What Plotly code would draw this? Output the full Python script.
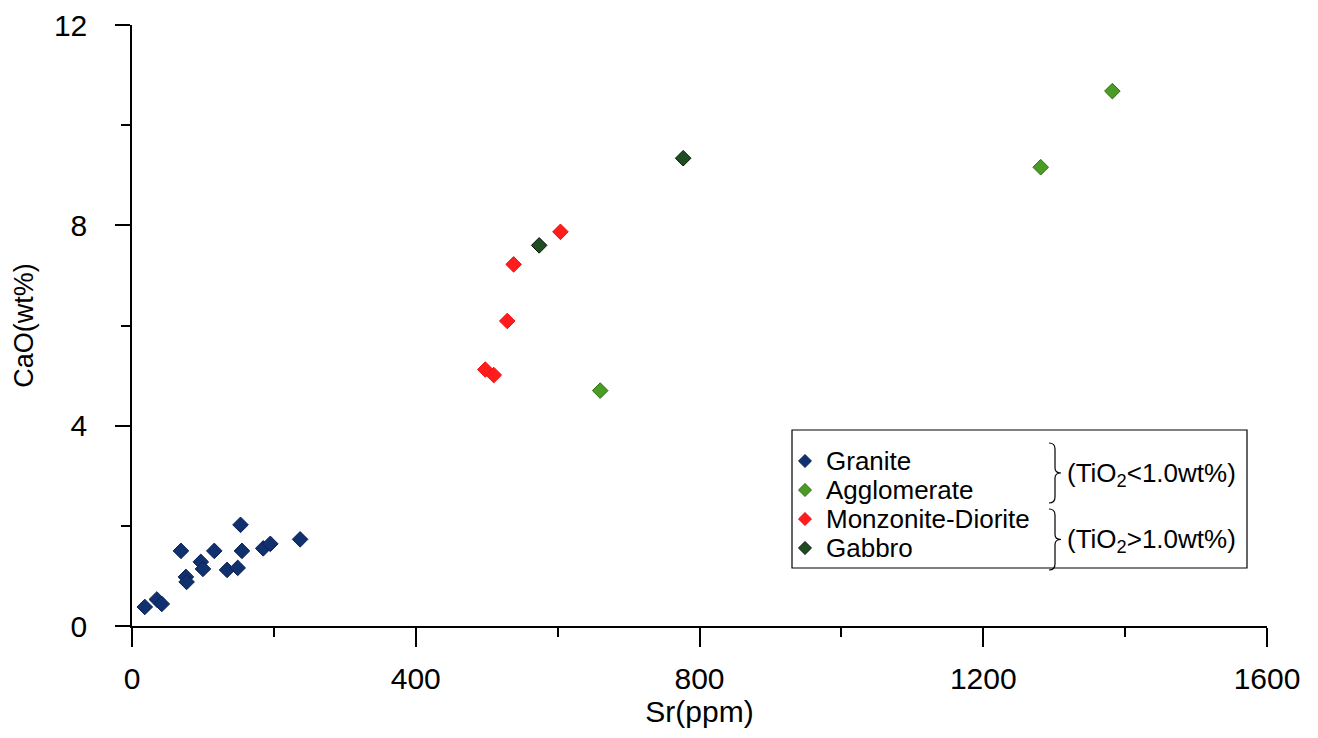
import plotly.graph_objects as go

# ---------------- data ----------------
granite_sr = [18, 35, 42, 69, 76, 77, 97, 100, 116, 134, 149, 153, 155, 185, 195, 237]
granite_cao = [0.38, 0.53, 0.44, 1.50, 0.98, 0.88, 1.28, 1.14, 1.50, 1.12, 1.16, 2.02, 1.50, 1.55, 1.64, 1.73]

agglo_sr = [660, 1281, 1382]
agglo_cao = [4.70, 9.16, 10.68]

monz_sr = [498, 510, 529, 538, 604]
monz_cao = [5.12, 5.01, 6.09, 7.22, 7.87]

gabbro_sr = [574, 777]
gabbro_cao = [7.60, 9.34]

x_ticks = [0, 400, 800, 1200, 1600]
y_ticks = [0, 4, 8, 12]

legend_names = ["Granite", "Agglomerate", "Monzonite-Diorite", "Gabbro"]
group_labels = ["(TiO<sub>2</sub>&lt;1.0wt%)", "(TiO<sub>2</sub>&gt;1.0wt%)"]

# ---------------- styling ----------------
W, H = 1318, 738
ML, MR, MT, MB = 132, 51, 25, 112
PW, PH = W - ML - MR, H - MT - MB
FONT = "Liberation Sans, Arial, sans-serif"

colors = {
    "Granite": ("#11306e", "#0b2258"),
    "Agglomerate": ("#4a9c24", "#2e6e16"),
    "Monzonite-Diorite": ("#ff1c1c", "#f01010"),
    "Gabbro": ("#1f4d22", "#0a140a"),
}

def px(xp):
    return (xp - ML) / PW

def py(yp):
    return (H - MB - yp) / PH

fig = go.Figure()
series = [
    ("Granite", granite_sr, granite_cao),
    ("Agglomerate", agglo_sr, agglo_cao),
    ("Monzonite-Diorite", monz_sr, monz_cao),
    ("Gabbro", gabbro_sr, gabbro_cao),
]
for name, xs, ys in series:
    fc, lc = colors[name]
    fig.add_trace(go.Scatter(
        x=xs, y=ys, mode="markers", name=name, showlegend=False,
        marker=dict(symbol="diamond", size=12, color=fc,
                    line=dict(color=lc, width=1)),
    ))

axis_common = dict(
    showgrid=False, zeroline=False, showline=True, linecolor="black",
    linewidth=1.5, ticks="outside", tickcolor="black", tickwidth=1.5,
    tickfont=dict(family=FONT, size=30, color="black"),
)

fig.update_xaxes(
    range=[0, 1600], tickvals=x_ticks, ticklen=19, ticklabelstandoff=6,
    minor=dict(dtick=200, ticks="outside", ticklen=9, tickcolor="black", tickwidth=1.5),
    title=dict(text="Sr(ppm)", font=dict(family=FONT, size=30, color="black"), standoff=4),
    **axis_common,
)
fig.update_yaxes(
    range=[0, 12], tickvals=y_ticks, ticklen=15, ticklabelstandoff=22,
    minor=dict(dtick=2, ticks="outside", ticklen=9, tickcolor="black", tickwidth=1.5),
    title=dict(text="CaO(wt%)", font=dict(family=FONT, size=27, color="black"), standoff=12),
    **axis_common,
)

# ---------------- legend (drawn manually) ----------------
shapes = [dict(type="rect", xref="paper", yref="paper",
               x0=px(792), x1=px(1247), y0=py(568), y1=py(430),
               line=dict(color="black", width=1.2), fillcolor="white", layer="above")]

annotations = []
entry_y = [461, 490, 519, 548]

def diamond_path(cx, cy, r):
    pts = [(cx, cy - r), (cx + r, cy), (cx, cy + r), (cx - r, cy)]
    return "M " + " L ".join(f"{px(a):.5f},{py(b):.5f}" for a, b in pts) + " Z"

for name, yy in zip(legend_names, entry_y):
    fc, lc = colors[name]
    shapes.append(dict(type="path", xref="paper", yref="paper",
                       path=diamond_path(805, yy, 6.5), fillcolor=fc,
                       line=dict(color=lc, width=1), layer="above"))
    annotations.append(dict(xref="paper", yref="paper", x=px(824), y=py(yy),
                            text=name, showarrow=False, xanchor="left", yanchor="middle",
                            font=dict(family=FONT, size=26, color="black")))

def brace(x0, ytop, ybot):
    ym = (ytop + ybot) / 2
    pts = [
        ("M", [(x0, ytop)]),
        ("Q", [(x0 + 6, ytop), (x0 + 6, ytop + 6)]),
        ("L", [(x0 + 6, ym - 5)]),
        ("Q", [(x0 + 6, ym), (x0 + 12, ym)]),
        ("Q", [(x0 + 6, ym), (x0 + 6, ym + 5)]),
        ("L", [(x0 + 6, ybot - 6)]),
        ("Q", [(x0 + 6, ybot), (x0, ybot)]),
    ]
    s = ""
    for cmd, ps in pts:
        s += cmd + " " + " ".join(f"{px(a):.5f},{py(b):.5f}" for a, b in ps) + " "
    return s.strip()

for (yt, yb) in [(443, 503), (509, 570)]:
    shapes.append(dict(type="path", xref="paper", yref="paper", path=brace(1049, yt, yb),
                       line=dict(color="black", width=1.2), layer="above"))

for lbl, yy in zip(group_labels, [474, 540]):
    annotations.append(dict(xref="paper", yref="paper", x=px(1065), y=py(yy),
                            text=lbl, showarrow=False, xanchor="left", yanchor="middle",
                            font=dict(family=FONT, size=26, color="black")))

fig.update_layout(
    width=W, height=H, margin=dict(l=ML, r=MR, t=MT, b=MB, autoexpand=False),
    paper_bgcolor="white", plot_bgcolor="white",
    shapes=shapes, annotations=annotations, showlegend=False,
    font=dict(family=FONT, color="black"),
)

fig.write_html("out.html")
